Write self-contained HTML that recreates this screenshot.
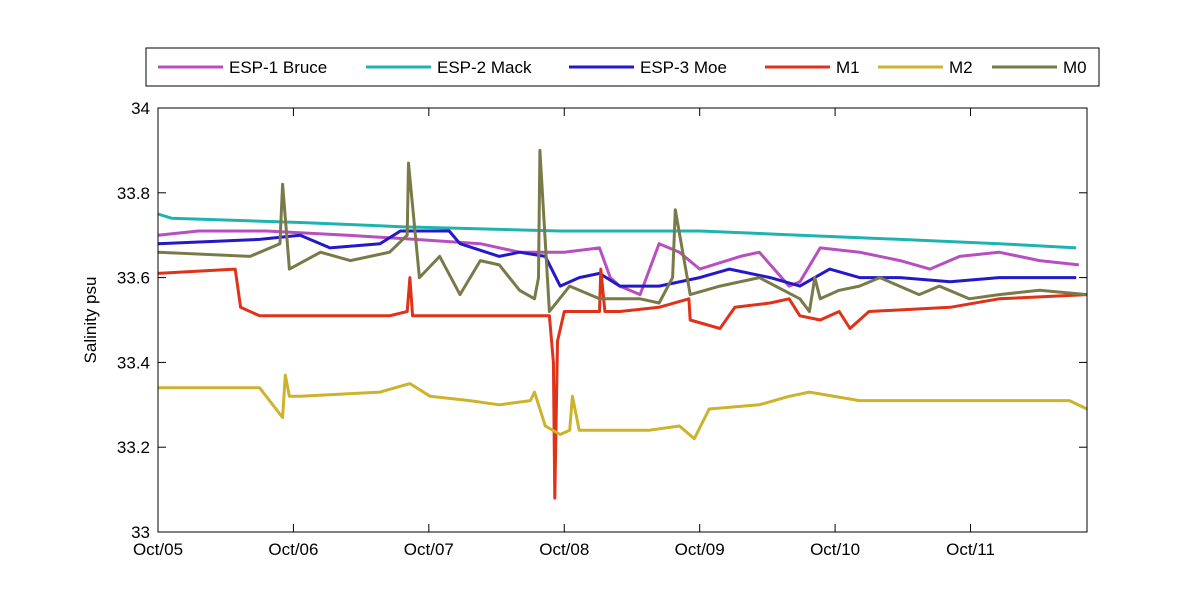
<!DOCTYPE html>
<html><head><meta charset="utf-8"><style>
body{margin:0;background:#fff;}
svg text{font-family:"Liberation Sans",sans-serif;font-size:17px;fill:#000;}
</style></head><body>
<svg id="chart" width="1200" height="600">
<rect width="1200" height="600" fill="#fff"/>
<g id="plot"></g>
</svg>
<script>
const xTickLabels=["Oct/05","Oct/06","Oct/07","Oct/08","Oct/09","Oct/10","Oct/11"];
const xTickDays=[0,1,2,3,4,5,6];
const yTicks=[33,33.2,33.4,33.6,33.8,34];
const seriesNames=["ESP-1 Bruce","ESP-2 Mack","ESP-3 Moe","M1","M2","M0"];
const seriesColors=["#b84fc0","#1fb3b0","#2418c8","#e03218","#cdb32c","#7a7a48"];
const tBruce=[0,0.3,0.8,1.4,1.9,2.38,2.67,3.0,3.26,3.34,3.41,3.56,3.63,3.70,3.85,4.0,4.3,4.44,4.66,4.74,4.89,5.18,5.48,5.70,5.92,6.21,6.51,6.80];
const vBruce=[33.70,33.71,33.71,33.70,33.69,33.68,33.66,33.66,33.67,33.60,33.58,33.56,33.62,33.68,33.66,33.62,33.65,33.66,33.58,33.59,33.67,33.66,33.64,33.62,33.65,33.66,33.64,33.63];
const tMack=[0,0.1,1.05,1.79,2.97,4.0,4.74,5.48,6.21,6.78];
const vMack=[33.75,33.74,33.73,33.72,33.71,33.71,33.70,33.69,33.68,33.67];
const tMoe=[0,0.75,1.05,1.27,1.64,1.79,2.15,2.23,2.52,2.67,2.86,2.97,3.11,3.26,3.41,3.70,4.0,4.22,4.52,4.74,4.96,5.18,5.48,5.85,6.21,6.78];
const vMoe=[33.68,33.69,33.70,33.67,33.68,33.71,33.71,33.68,33.65,33.66,33.65,33.58,33.60,33.61,33.58,33.58,33.60,33.62,33.60,33.58,33.62,33.60,33.60,33.59,33.60,33.60];
const tM1=[0,0.57,0.61,0.75,1.0,1.71,1.84,1.86,1.88,2.5,2.89,2.92,2.93,2.95,3.0,3.26,3.27,3.3,3.41,3.70,3.92,3.93,4.15,4.26,4.52,4.66,4.74,4.89,5.03,5.11,5.25,5.85,6.21,6.86];
const vM1=[33.61,33.62,33.53,33.51,33.51,33.51,33.52,33.60,33.51,33.51,33.51,33.40,33.08,33.45,33.52,33.52,33.62,33.52,33.52,33.53,33.55,33.50,33.48,33.53,33.54,33.55,33.51,33.50,33.52,33.48,33.52,33.53,33.55,33.56];
const tM2=[0,0.75,0.92,0.94,0.97,1.05,1.64,1.86,2.01,2.30,2.52,2.75,2.78,2.86,2.97,3.04,3.06,3.11,3.63,3.85,3.96,4.07,4.44,4.66,4.81,5.18,6.21,6.73,6.86];
const vM2=[33.34,33.34,33.27,33.37,33.32,33.32,33.33,33.35,33.32,33.31,33.30,33.31,33.33,33.25,33.23,33.24,33.32,33.24,33.24,33.25,33.22,33.29,33.30,33.32,33.33,33.31,33.31,33.31,33.29];
const tM0=[0,0.68,0.90,0.92,0.97,1.20,1.42,1.71,1.84,1.85,1.93,2.08,2.23,2.38,2.52,2.67,2.78,2.81,2.82,2.89,3.04,3.26,3.56,3.70,3.80,3.82,3.93,4.15,4.44,4.74,4.81,4.85,4.89,5.03,5.18,5.33,5.62,5.77,5.99,6.21,6.51,6.86];
const vM0=[33.66,33.65,33.68,33.82,33.62,33.66,33.64,33.66,33.70,33.87,33.60,33.65,33.56,33.64,33.63,33.57,33.55,33.60,33.90,33.52,33.58,33.55,33.55,33.54,33.60,33.76,33.56,33.58,33.60,33.55,33.52,33.60,33.55,33.57,33.58,33.60,33.56,33.58,33.55,33.56,33.57,33.56];
const seriesT=[tBruce,tMack,tMoe,tM1,tM2,tM0];
const seriesV=[vBruce,vMack,vMoe,vM1,vM2,vM0];

const X0=158,X1=1087,Y0=532,Y1=108,DMAX=6.86;
const xs=d=>X0+(X1-X0)*d/DMAX;
const ys=v=>Y0-(Y0-Y1)*(v-33);
const NS="http://www.w3.org/2000/svg";
const svg=document.getElementById('chart');
function mk(tag,attrs,parent){const e=document.createElementNS(NS,tag);for(const k in attrs)e.setAttribute(k,attrs[k]);(parent||svg).appendChild(e);return e;}
const plot=document.getElementById('plot');
seriesV.forEach((vals,i)=>{
  const pts=vals.map((v,j)=>xs(seriesT[i][j]).toFixed(1)+","+ys(v).toFixed(1)).join(" ");
  const pl=mk('polyline',{points:pts,fill:"none",stroke:seriesColors[i],"stroke-width":3,"stroke-linejoin":"round"},plot);
  
  
});
const box=mk('rect',{x:X0,y:Y1,width:X1-X0,height:Y0-Y1,fill:"none",stroke:"#000","stroke-width":1});


yTicks.forEach(v=>{
  const y=ys(v);
  mk('line',{x1:X0,x2:X0+8,y1:y,y2:y,stroke:"#000"});
  mk('line',{x1:X1,x2:X1-8,y1:y,y2:y,stroke:"#000"});
  const t=mk('text',{x:X0-8,y:y+6,"text-anchor":"end"});
  t.textContent=String(v);
  
  
});
xTickDays.forEach((d,i)=>{
  const x=xs(d);
  mk('line',{x1:x,x2:x,y1:Y0,y2:Y0-8,stroke:"#000"});
  mk('line',{x1:x,x2:x,y1:Y1,y2:Y1+8,stroke:"#000"});
  const t=mk('text',{x:x,y:Y0+23,"text-anchor":"middle"});
  t.textContent=xTickLabels[i];
  
  
});
const yt=mk('text',{x:0,y:0,transform:"translate(96,320) rotate(-90)","text-anchor":"middle"});
yt.textContent="Salinity psu";


const lg=mk('g',{});


mk('rect',{x:146,y:48,width:953,height:38,fill:"#fff",stroke:"#000"},lg);
const legX=[158,366,569,765,878,992];
seriesNames.forEach((n,i)=>{
  const g=mk('g',{},lg);
  
  
  mk('line',{x1:legX[i],x2:legX[i]+65,y1:67,y2:67,stroke:seriesColors[i],"stroke-width":3},g);
  const t=mk('text',{x:legX[i]+71,y:73},g);
  t.textContent=n;
});
</script>
</body></html>
